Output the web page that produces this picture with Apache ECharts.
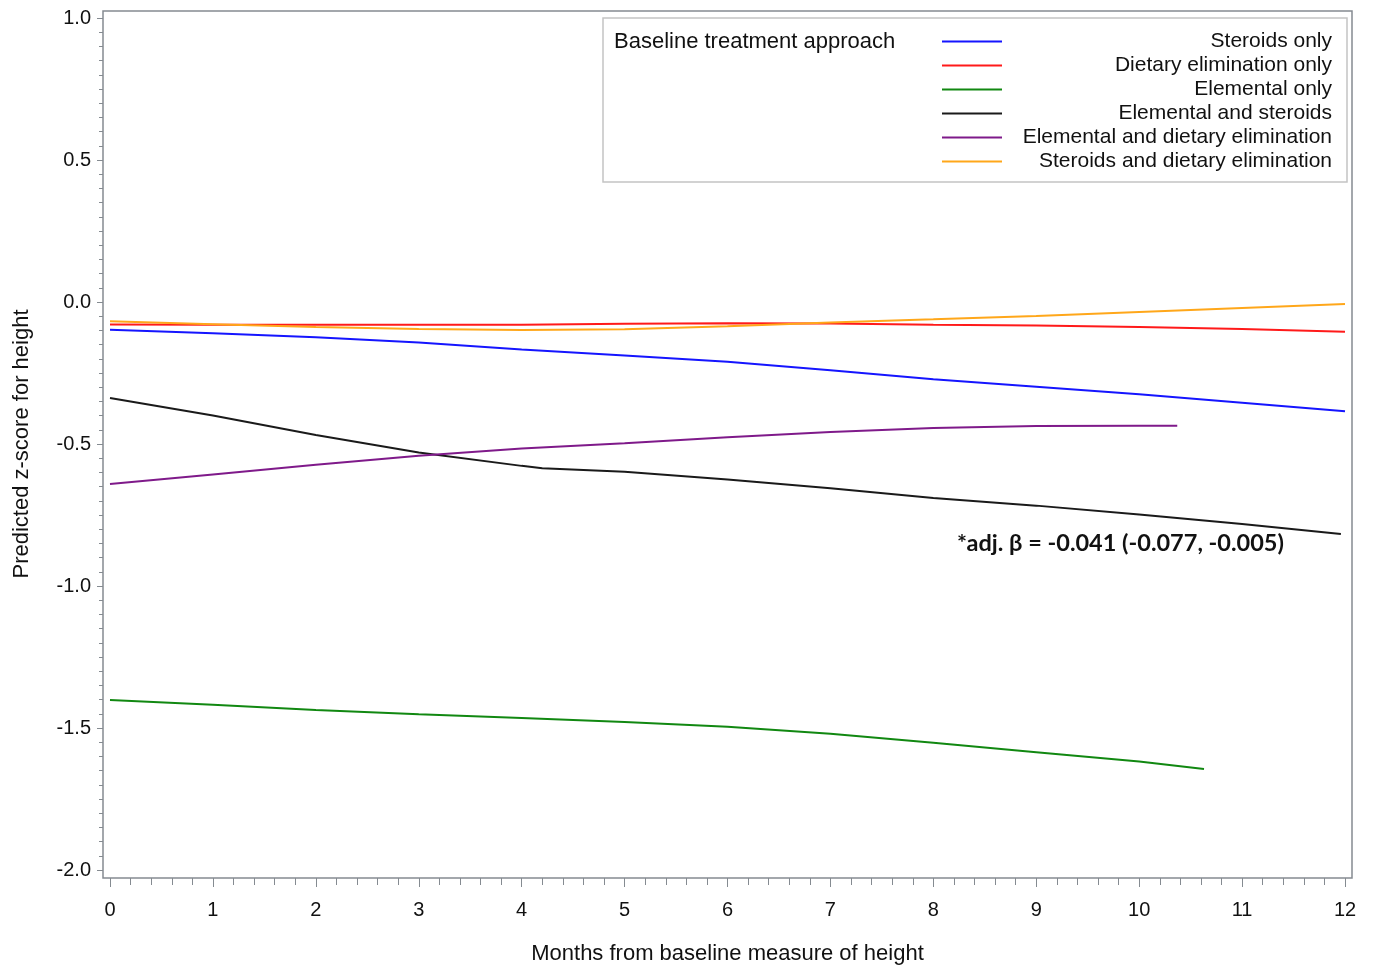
<!DOCTYPE html>
<html>
<head>
<meta charset="utf-8">
<script src="https://cdn.jsdelivr.net/npm/echarts@6/dist/echarts.min.js"></script>
<style>
html,body{margin:0;padding:0;background:#fff;}
#chart{width:1376px;height:971px;}
</style>
</head>
<body>
<div id="chart"></div>
<script>
const seriesNames = ['Steroids only','Dietary elimination only','Elemental only','Elemental and steroids','Elemental and dietary elimination','Steroids and dietary elimination'];
const seriesColors = ['#1515ff','#ff1a1a','#118811','#1a1a1a','#7f1a8a','#ffa71a'];

const steroidsX = [0,1,2,3,4,5,6,7,8,9,10,11,12];
const steroidsY = [-0.098,-0.110,-0.124,-0.143,-0.167,-0.188,-0.210,-0.240,-0.272,-0.298,-0.325,-0.355,-0.385];

const dietaryX = [0,1,2,3,4,5,6,7,8,9,10,11,12];
const dietaryY = [-0.079,-0.080,-0.080,-0.080,-0.080,-0.077,-0.075,-0.076,-0.080,-0.083,-0.088,-0.095,-0.105];

const elementalX = [0,1,2,3,4,5,6,7,8,9,10,10.63];
const elementalY = [-1.401,-1.418,-1.437,-1.452,-1.465,-1.479,-1.496,-1.520,-1.552,-1.585,-1.618,-1.644];

const elemSteroidsX = [0,1,2,3,4,4.2,5,6,7,8,9,10,11,11.96];
const elemSteroidsY = [-0.338,-0.400,-0.468,-0.530,-0.577,-0.585,-0.598,-0.625,-0.656,-0.690,-0.717,-0.748,-0.782,-0.817];

const elemDietaryX = [0,1,2,3,4,5,6,7,8,9,10,10.37];
const elemDietaryY = [-0.641,-0.607,-0.573,-0.541,-0.516,-0.497,-0.476,-0.458,-0.444,-0.437,-0.436,-0.436];

const steroidsDietaryX = [0,1,2,3,4,5,6,7,8,9,10,11,12];
const steroidsDietaryY = [-0.068,-0.078,-0.088,-0.095,-0.099,-0.096,-0.085,-0.072,-0.061,-0.049,-0.035,-0.021,-0.007];

const xList = [steroidsX, dietaryX, elementalX, elemSteroidsX, elemDietaryX, steroidsDietaryX];
const yList = [steroidsY, dietaryY, elementalY, elemSteroidsY, elemDietaryY, steroidsDietaryY];

const legendTitle = 'Baseline treatment approach';
const annotationText = '*adj. \u03b2 = -0.041 (-0.077, -0.005)';
const xAxisName = 'Months from baseline measure of height';
const yAxisName = 'Predicted z-score for height';

const FONT = '"Liberation Sans", Arial, sans-serif';
const LEG_FS = 21;
const LABEL_BOX = 313;

const cv = document.createElement('canvas').getContext('2d');
cv.font = LEG_FS + 'px "Liberation Sans"';
const rich = {};
seriesNames.forEach((n, i) => {
  const w = cv.measureText(n).width;
  rich['t' + i] = {fontSize: LEG_FS, fontFamily: FONT, color: '#111', padding: [0, 0, 0, Math.max(0, LABEL_BOX - w)]};
});

const chart = echarts.init(document.getElementById('chart'), null, {renderer: 'canvas'});
const axisGray = '#858b91';

const option = {
  backgroundColor: '#fff',
  animation: false,
  grid: {left: 110, right: 31, top: 18, bottom: 101, containLabel: false},
  xAxis: {
    type: 'value', min: 0, max: 12, interval: 1, offset: 8,
    axisLine: {show: false, onZero: false},
    axisTick: {show: true, length: 9, lineStyle: {color: axisGray, width: 1}},
    minorTick: {show: true, splitNumber: 5, length: 7, lineStyle: {color: axisGray, width: 1}},
    splitLine: {show: false},
    axisLabel: {margin: 22, fontSize: 20, fontFamily: FONT, color: '#111'},
    name: xAxisName, nameLocation: 'middle', nameGap: 65,
    nameTextStyle: {fontSize: 22, fontFamily: FONT, color: '#111'}
  },
  yAxis: {
    type: 'value', min: -2, max: 1, interval: 0.5, offset: 7,
    axisLine: {show: false, onZero: false},
    axisTick: {show: true, length: 6, lineStyle: {color: axisGray, width: 1}},
    minorTick: {show: true, splitNumber: 10, length: 4, lineStyle: {color: axisGray, width: 1}},
    splitLine: {show: false},
    axisLabel: {margin: 12, fontSize: 20, fontFamily: FONT, color: '#111', formatter: v => v.toFixed(1)},
    name: yAxisName, nameLocation: 'middle', nameGap: 70, nameRotate: 90,
    nameTextStyle: {fontSize: 22, fontFamily: FONT, color: '#111'}
  },
  legend: {
    orient: 'vertical', left: 603, top: 18,
    padding: [13, 15, 10, 339],
    borderColor: '#c4c4c4', borderWidth: 1.5,
    itemWidth: 60, itemHeight: 2, itemGap: 3,
    icon: 'rect',
    data: seriesNames,
    formatter: name => '{t' + seriesNames.indexOf(name) + '|' + name + '}',
    textStyle: {rich: rich, padding: [0, 0, 0, 12]},
    selectedMode: false
  },
  graphic: [
    {type: 'rect', z: 0, silent: true, shape: {x: 103, y: 11, width: 1249, height: 867}, style: {fill: 'none', stroke: axisGray, lineWidth: 1.5}},
    {type: 'text', left: 614, top: 31, silent: true, style: {text: legendTitle, fontSize: 22, fontFamily: FONT, fill: '#111'}},
    {type: 'text', left: 957, top: 531, silent: true, style: {text: annotationText, fontSize: 23.5, fontWeight: 'bold', fontFamily: 'Lato, "Open Sans", sans-serif', fill: '#111'}}
  ],
  series: seriesNames.map((n, i) => ({
    name: n, type: 'line', showSymbol: false, symbol: 'none',
    color: seriesColors[i],
    lineStyle: {width: 2, color: seriesColors[i]},
    data: xList[i].map((x, j) => [x, yList[i][j]])
  }))
};
chart.setOption(option);
</script>
</body>
</html>
